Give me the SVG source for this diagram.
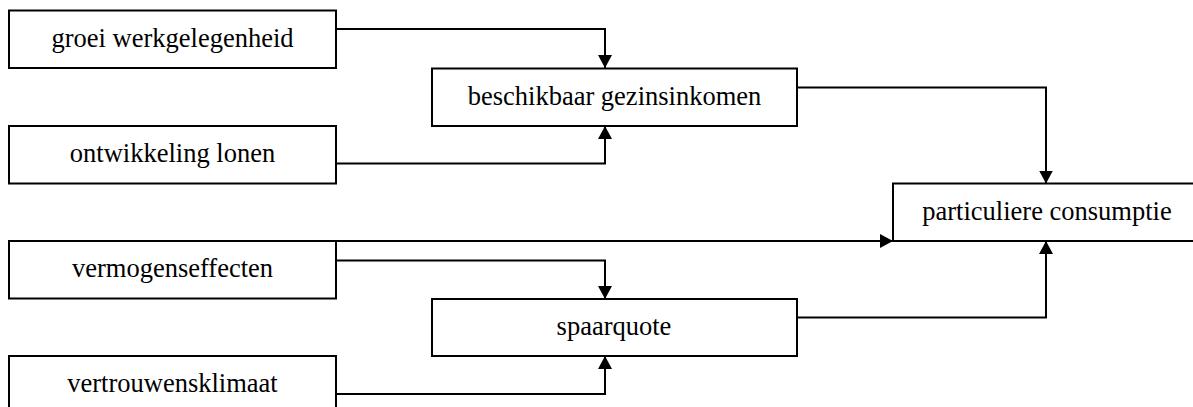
<svg xmlns="http://www.w3.org/2000/svg" width="1193" height="407" viewBox="0 0 1193 407">
<style>
.box{fill:#fff;stroke:#000;stroke-width:2}
.lbl{font-size:26.5px;fill:#000;text-anchor:middle}
.con{fill:none;stroke:#000;stroke-width:2}
.arr{marker-end:url(#ah)}
</style>
<defs>
<marker id="ah" viewBox="0 0 13 14" refX="13" refY="7" markerWidth="13" markerHeight="14" markerUnits="userSpaceOnUse" orient="auto">
<path d="M0,0 L13,7 L0,14 Z" fill="#000"/>
</marker>
</defs>
<rect width="1193" height="407" fill="#fff"/>
<g id="connectors">
<path class="con arr" d="M336,29 H605 V68"/>
<path class="con arr" d="M336,163.5 H605 V126"/>
<path class="con arr" d="M797,87.5 H1046 V183.5"/>
<path class="con arr" d="M336,241 H893"/>
<path class="con arr" d="M336,260.5 H605 V299"/>
<path class="con arr" d="M336,394 H605 V356"/>
<path class="con arr" d="M797,317.5 H1046 V241"/>
</g>
<g id="labels-font" font-family="'Liberation Serif', 'DejaVu Serif', serif">
<g id="n-groei">
<rect class="box" x="9" y="10.5" width="327" height="57.5"/>
<text class="lbl" x="172.5" y="47">groei werkgelegenheid</text>
</g>
<g id="n-inkomen">
<rect class="box" x="432" y="68.5" width="365" height="57.5"/>
<text class="lbl" x="614.5" y="105">beschikbaar gezinsinkomen</text>
</g>
<g id="n-lonen">
<rect class="box" x="9" y="126" width="327" height="57.5"/>
<text class="lbl" x="172.5" y="162">ontwikkeling lonen</text>
</g>
<g id="n-consumptie">
<rect class="box" x="893" y="183.5" width="320" height="57.5"/>
<text class="lbl" x="1047" y="220">particuliere consumptie</text>
</g>
<g id="n-vermogen">
<rect class="box" x="9" y="241" width="327" height="57.5"/>
<text class="lbl" x="172.5" y="277">vermogenseffecten</text>
</g>
<g id="n-spaarquote">
<rect class="box" x="432" y="299" width="365" height="57"/>
<text class="lbl" x="614" y="335">spaarquote</text>
</g>
<g id="n-vertrouwen">
<rect class="box" x="9" y="356" width="327" height="70"/>
<text class="lbl" x="172.5" y="392">vertrouwensklimaat</text>
</g>
</g>
</svg>
